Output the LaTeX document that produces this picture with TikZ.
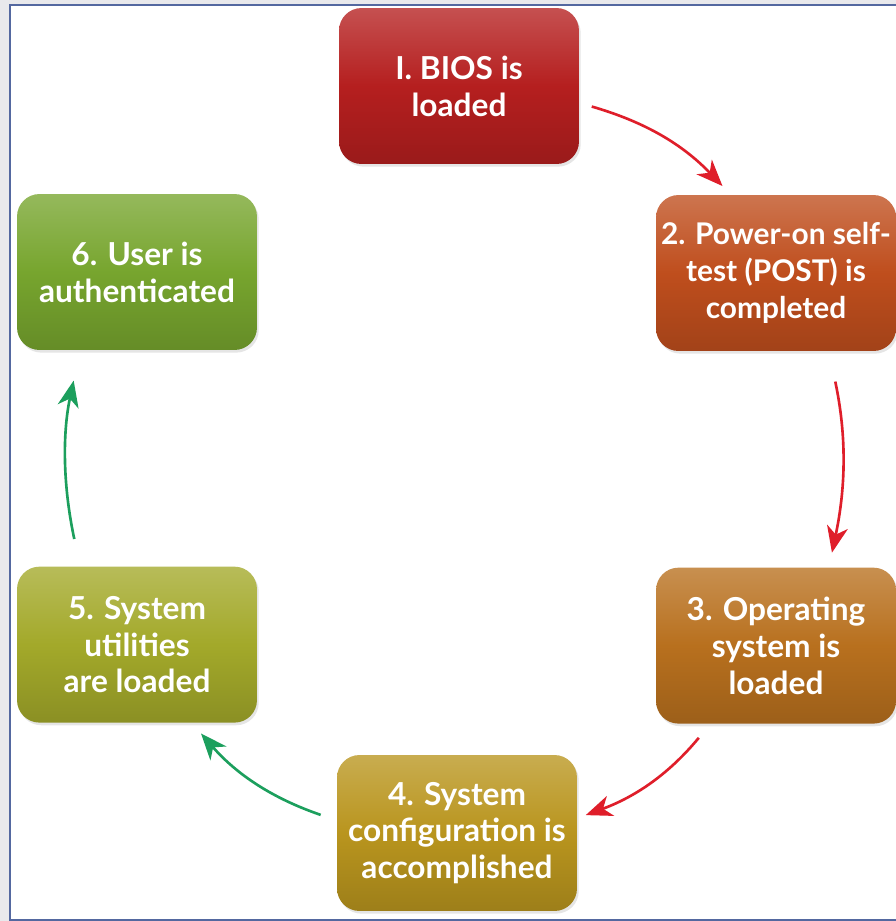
\documentclass[tikz,border=0pt]{standalone}
\usepackage{fontspec}
\setmainfont{Lato}
\usetikzlibrary{positioning,shapes}
\usetikzlibrary{arrows.meta,shadows}

\definecolor{biosred}{HTML}{B51F1F}
\definecolor{postorange}{HTML}{BF4E1D}
\definecolor{osbrown}{HTML}{B8701E}
\definecolor{configgold}{HTML}{B9951E}
\definecolor{utilolive}{HTML}{A3A92A}
\definecolor{authgreen}{HTML}{77A52E}
\definecolor{flowred}{HTML}{DF1E2A}
\definecolor{flowgreen}{HTML}{1C9F5D}
\definecolor{frameblue}{HTML}{5468A0}
\definecolor{outergray}{HTML}{E9E9EC}

\tikzset{
	stage/.style={rounded corners=0.45cm, minimum width=4.8cm, minimum height=3.12cm,
		text=white, font=\bfseries\fontsize{18}{21}\selectfont, align=center, inner sep=1pt,
		drop shadow={opacity=0.2, shadow xshift=1pt, shadow yshift=-1.5pt}},
	shadestage/.style={top color=#1!78!white, bottom color=#1!85!black, middle color=#1},
	redflow/.style={draw=flowred, line width=1.5pt, -{Stealth[length=15pt,width=12pt,inset=4.5pt]}},
	greenflow/.style={draw=flowgreen, line width=1.5pt, -{Stealth[length=15pt,width=12pt,inset=4.5pt]}}
}

\begin{document}
\begin{tikzpicture}[x=0.02cm,y=-0.02cm]
\useasboundingbox (0,0) rectangle (896,921);
%frame
\fill[outergray] (0,0) rectangle (896,921);
\fill[white] (10,5) rectangle (896,920);
\draw[frameblue, line width=1.2pt] (896,5) -- (10,5) -- (10,920) -- (896,920);

%the six stages
\node [stage, shadestage=biosred](Bios) at (459,86){I. BIOS is\\loaded};
\node [stage, shadestage=postorange, font=\bfseries\fontsize{17}{21}\selectfont](Post) at (776,273){2. Power-on self-\\test (POST) is\\completed};
\node [stage, shadestage=osbrown, below=4.32cm of Post](OSload){3. Operating\\system is\\loaded};
\node [stage, shadestage=configgold](Config) at (457,833){4. System\\configuration is\\accomplished};
\node [stage, shadestage=authgreen](Auth) at (137,272){6. User is\\authenticated};
\node [stage, shadestage=utilolive, below=4.32cm of Auth](Util){5. System\\utilities\\are loaded};

%arrows
\draw[redflow, shorten <=13pt*0.567, shorten >=12pt*0.567] (Bios.-8) to[bend left=15] (Post.120);
\draw[redflow, shorten <=31pt*0.567, shorten >=15pt*0.567] (Post.-56) to[bend left=12] (OSload.56);
\draw[redflow, shorten <=18pt*0.567, shorten >=9pt*0.567] (OSload.230) to[bend left=15] (Config.7);
\draw[greenflow, shorten <=17pt*0.567, shorten >=14pt*0.567] (Config.174) to[bend left=15] (Util.-55);
\draw[greenflow, shorten <=28pt*0.567, shorten >=31pt*0.567] (Util.126) to[bend left=12] (Auth.234);

\end{tikzpicture}
\end{document}
